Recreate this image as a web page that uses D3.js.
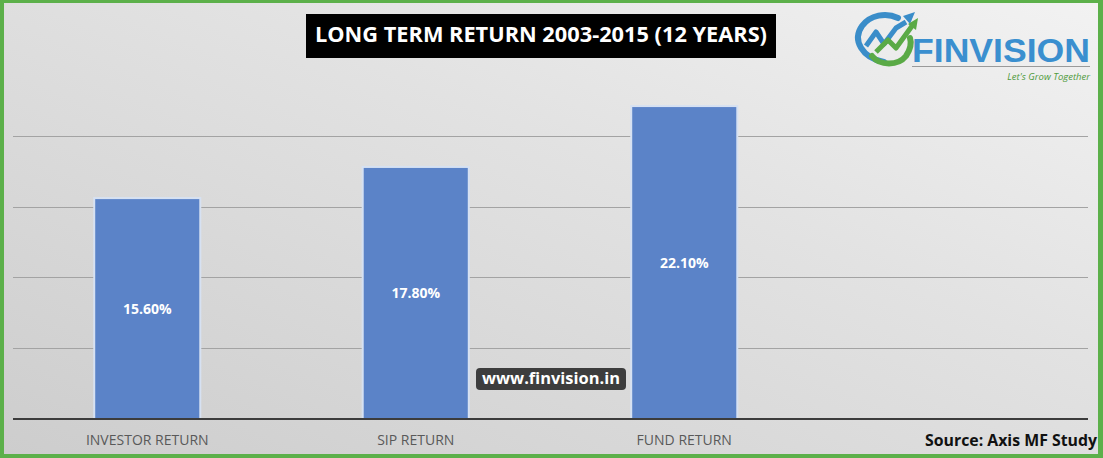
<!DOCTYPE html>
<html><head><meta charset="utf-8">
<script src="https://cdn.jsdelivr.net/npm/d3@7"></script>
<style>html,body{margin:0;padding:0;background:#fff;}svg{display:block;}</style>
</head><body>
<script>
const categories = ["INVESTOR RETURN", "SIP RETURN", "FUND RETURN"];
const values = [15.6, 17.8, 22.1];
const gridTicks = [5, 10, 15, 20];
const title = "LONG TERM RETURN 2003-2015 (12 YEARS)";
const source = "Source: Axis MF Study";
const watermark = "www.finvision.in";

const W = 1103, H = 458;
const svg = d3.select("body").append("svg").attr("width", W).attr("height", H);
const defs = svg.append("defs");
const g = defs.append("linearGradient").attr("id","bg").attr("x1","0").attr("y1","1").attr("x2","1").attr("y2","0");
g.append("stop").attr("offset","0").attr("stop-color","#cdcdcd");
g.append("stop").attr("offset","0.6").attr("stop-color","#e2e2e2");
g.append("stop").attr("offset","1").attr("stop-color","#f2f2f2");

svg.append("rect").attr("width",W).attr("height",H).attr("fill","#5cb04a");
svg.append("rect").attr("x",4).attr("y",3).attr("width",1094).attr("height",451).attr("fill","url(#bg)");

const x0 = 13, step = 268.5;
const x = d3.scaleBand().domain(categories).range([x0, x0 + step*categories.length]).paddingInner(0.605).paddingOuter(0.3025);
const y = d3.scaleLinear().domain([0, 25]).range([419, 65]);

// gridlines
svg.append("g").selectAll("line").data(gridTicks).join("line")
  .attr("x1", x0).attr("x2", 1088)
  .attr("y1", d => Math.round(y(d))+0.5).attr("y2", d => Math.round(y(d))+0.5)
  .attr("stroke", "#a3a3a3").attr("stroke-width", 1);

// bars
svg.append("g").selectAll("rect").data(values).join("rect")
  .attr("x", (d,i) => x(categories[i])).attr("y", d => y(d))
  .attr("width", x.bandwidth()).attr("height", d => y(0) - y(d))
  .attr("fill", "#5b83c8").attr("stroke", "#d6e1f2").attr("stroke-width", 2);

// baseline
svg.append("line").attr("x1", x0).attr("x2", 1088).attr("y1", 419).attr("y2", 419)
  .attr("stroke", "#3c3c3c").attr("stroke-width", 2);

// value labels
svg.append("g").selectAll("text").data(values).join("text")
  .attr("x", (d,i) => x(categories[i]) + x.bandwidth()/2)
  .attr("y", d => (y(d)+y(0))/2 + 5)
  .attr("text-anchor","middle").attr("fill","#ffffff")
  .attr("font-family","'Open Sans', sans-serif").attr("font-weight","bold").attr("font-size",14)
  .text(d => d.toFixed(2) + "%");

// category axis labels
const xAxis = d3.axisBottom(x).tickSize(0).tickPadding(0);
const ax = svg.append("g").attr("transform","translate(0,445)").call(xAxis);
ax.select(".domain").remove();
ax.selectAll("text").attr("fill","#595959").attr("font-family","'Open Sans', sans-serif").attr("font-size",14).attr("dy","0");

// title
svg.append("rect").attr("x",306).attr("y",14).attr("width",470).attr("height",44).attr("fill","#000");
svg.append("text").attr("x",541).attr("y",42).attr("text-anchor","middle").attr("fill","#fff")
  .attr("font-family","'Open Sans', sans-serif").attr("font-weight","bold").attr("font-size",22)
  .attr("textLength",452).attr("lengthAdjust","spacingAndGlyphs").text(title);

// watermark
svg.append("rect").attr("x",476).attr("y",368).attr("width",150).attr("height",22).attr("rx",4).attr("fill","#3d3d3d");
svg.append("text").attr("x",551).attr("y",384).attr("text-anchor","middle").attr("fill","#fff")
  .attr("font-family","'Open Sans', sans-serif").attr("font-weight","bold").attr("font-size",15.5)
  .attr("textLength",138).attr("lengthAdjust","spacingAndGlyphs").text(watermark);

// source
svg.append("text").attr("x",1097).attr("y",446).attr("text-anchor","end").attr("fill","#111")
  .attr("font-family","'Open Sans', sans-serif").attr("font-weight","bold").attr("font-size",16)
  .attr("textLength",172).attr("lengthAdjust","spacingAndGlyphs").text(source);

// logo
const logo = svg.append("g");
logo.append("path").attr("d","M884,62 C862,58 852,40 862,26 C870,15 886,12 898,18")
  .attr("fill","none").attr("stroke","#3a8dc9").attr("stroke-width",6).attr("stroke-linecap","round");
logo.append("path").attr("d","M866,46 L876,32 L884,44 L896,28 L906,22")
  .attr("fill","none").attr("stroke","#3a8dc9").attr("stroke-width",5).attr("stroke-linejoin","round");
logo.append("path").attr("d","M903,16 L915,12 L910,24 Z").attr("fill","#3a8dc9");
logo.append("path").attr("d","M876,52 L888,40 L896,48 L912,26")
  .attr("fill","none").attr("stroke","#5aaa46").attr("stroke-width",5).attr("stroke-linejoin","round");
logo.append("path").attr("d","M908,24 L918,18 L916,30 Z").attr("fill","#5aaa46");
logo.append("path").attr("d","M872,56 C880,66 898,66 906,56 C910,50 912,44 910,38")
  .attr("fill","none").attr("stroke","#5aaa46").attr("stroke-width",6).attr("stroke-linecap","round");
logo.append("text").attr("x",912).attr("y",62).attr("fill","#3a8fcf")
  .attr("font-family","'Liberation Sans', sans-serif").attr("font-weight","bold").attr("font-size",34)
  .attr("textLength",178).attr("lengthAdjust","spacingAndGlyphs").text("FINVISION");
logo.append("line").attr("x1",912).attr("x2",1090).attr("y1",66.5).attr("y2",66.5).attr("stroke","#9a9a9a").attr("stroke-width",1);
logo.append("text").attr("x",1090).attr("y",80).attr("text-anchor","end").attr("fill","#4e9a3c")
  .attr("font-family","'Open Sans', sans-serif").attr("font-style","italic").attr("font-size",9.5).text("Let's Grow Together");
</script>
</body></html>
